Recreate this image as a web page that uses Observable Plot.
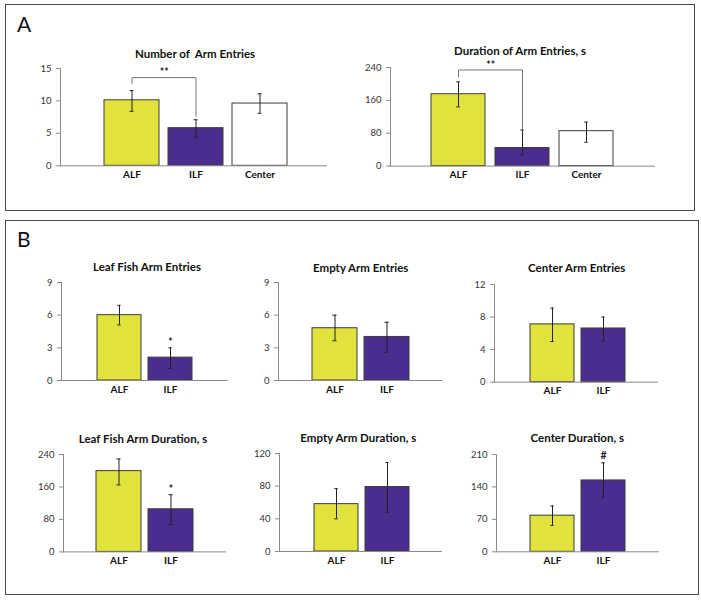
<!DOCTYPE html>
<html><head><meta charset="utf-8">
<script src="https://cdn.jsdelivr.net/npm/d3@7"></script>
<script src="https://cdn.jsdelivr.net/npm/@observablehq/plot@0.6"></script>
<style>
body{margin:0;background:#fff;}
#root{position:relative;width:701px;height:601px;font-family:Lato,"Open Sans",sans-serif;overflow:hidden;}
.panel{position:absolute;border:1.5px solid #4a4a4a;box-sizing:border-box;}
.letter{position:absolute;font-size:21px;line-height:21px;color:#111;}
.title{position:absolute;font-weight:bold;font-size:11.5px;line-height:11.5px;color:#111;transform:translateX(-50%);white-space:pre;}
.chart{position:absolute;}
</style></head><body><div id="root"></div>
<script>
// ---- data ----
const categoriesA = ["ALF", "ILF", "Center"];
const categoriesB = ["ALF", "ILF"];
const colorsA = ["#e1e33c", "#4a2d8e", "#ffffff"];
const colorsB = ["#e1e33c", "#4a2d8e"];

const armEntries = [10.1, 5.8, 9.6];
const armEntriesLo = [8.4, 4.4, 8.1];
const armEntriesHi = [11.6, 7.1, 11.1];

const armDuration = [175, 44, 85];
const armDurationLo = [144, 27, 58];
const armDurationHi = [205, 88, 107];

const leafEntries = [6.0, 2.1];
const leafEntriesLo = [5.1, 1.1];
const leafEntriesHi = [6.9, 3.0];

const emptyEntries = [4.8, 4.0];
const emptyEntriesLo = [3.65, 2.6];
const emptyEntriesHi = [6.0, 5.35];

const centerEntries = [7.1, 6.6];
const centerEntriesLo = [5.0, 5.05];
const centerEntriesHi = [9.1, 8.0];

const leafDuration = [199, 105];
const leafDurationLo = [165, 67];
const leafDurationHi = [229, 141];

const emptyDuration = [58, 79];
const emptyDurationLo = [40, 48];
const emptyDurationHi = [77, 109];

const centerDuration = [78, 154];
const centerDurationLo = [57, 118];
const centerDurationHi = [99, 192];

const ticksA1 = [0, 5, 10, 15];
const ticksA2 = [0, 80, 160, 240];
const ticksB1 = [0, 3, 6, 9];
const ticksB3 = [0, 4, 8, 12];
const ticksB4 = [0, 80, 160, 240];
const ticksB5 = [0, 40, 80, 120];
const ticksB6 = [0, 70, 140, 210];

// significance brackets: [ALF leg bottom, top, ILF leg bottom]
const bracketA1 = [12.7, 13.6, 7.6];
const bracketA2 = [217, 234, 88];
const starsA1 = 14.3, starsA2 = 244;
const starB1 = 3.5, starB4 = 154, hashB6 = 207;

const titles = ["Number of  Arm Entries", "Duration of Arm Entries, s", "Leaf Fish Arm Entries", "Empty Arm Entries",
  "Center Arm Entries", "Leaf Fish Arm Duration, s", "Empty Arm Duration, s", "Center Duration, s"];

// ---- layout ----
const root = document.getElementById("root");
function addDiv(cls, css, text) {
  const d = document.createElement("div");
  d.className = cls; Object.assign(d.style, css);
  if (text != null) d.textContent = text;
  root.appendChild(d); return d;
}
addDiv("panel", {left: "5px", top: "4px", width: "690px", height: "207px"});
addDiv("panel", {left: "5px", top: "220px", width: "694px", height: "375px"});
addDiv("letter", {left: "17px", top: "13px"}, "A");
addDiv("letter", {left: "17px", top: "228px"}, "B");

function chart(cfg) {
  const {cats, vals, lo, hi, colors, ticks, max, g, annots = [], bracket} = cfg;
  const padTop = 30, padBottom = 26, padLeft = 45, padRight = 6;
  const left = g.ax - padLeft, top = g.yt - padTop;
  const width = Math.round(g.end - left + padRight);
  const height = Math.round(g.y0 - top + padBottom);
  const mt = g.yt - top, mb = height - (g.y0 - top);
  const data = cats.map((c, i) => ({cat: c, v: vals[i], lo: lo[i], hi: hi[i]}));
  const n = cats.length, p = g.p;
  const step = (g.b1 - g.b0) / (n - p);
  const bw = step * (1 - p);
  const capW = 4, inset = (bw - capW) / 2;
  const marks = [
    Plot.barY(data, {x: "cat", y: "v", fill: "cat", stroke: "#3c3c3c", strokeWidth: 1}),
    Plot.frame({anchor: "left", stroke: "#8a8a8a"}),
    Plot.ruleY([0], {stroke: "#8a8a8a"}),
    Plot.ruleX(data, {x: "cat", y1: "lo", y2: "hi", stroke: "#222", strokeWidth: 1}),
    Plot.tickY(data, {x: "cat", y: "lo", insetLeft: inset, insetRight: inset, stroke: "#222"}),
    Plot.tickY(data, {x: "cat", y: "hi", insetLeft: inset, insetRight: inset, stroke: "#222"}),
    Plot.axisY({ticks, tickSize: 4, tickPadding: 5, stroke: "#8a8a8a", fill: "#333", label: null, fontSize: 9.5, tickFormat: d => String(d)}),
    Plot.axisX({tickSize: 0, tickPadding: 5, fill: "#111", label: null, fontSize: 10, fontWeight: "bold"})
  ];
  if (bracket) {
    const pts = [
      {cat: cats[0], v: bracket[0]}, {cat: cats[0], v: bracket[1]},
      {cat: cats[1], v: bracket[1]}, {cat: cats[1], v: bracket[2]}
    ];
    marks.push(Plot.line(pts, {x: "cat", y: "v", stroke: "#777", strokeWidth: 1}));
  }
  annots.forEach(a => {
    marks.push(Plot.text([a], {x: "cat", y: "v", text: "t", dx: a.mid ? step / 2 : 0, fontSize: 10.5, fontWeight: "bold", fill: "#222"}));
  });
  const svg = Plot.plot({
    width, height, marginTop: mt, marginBottom: mb, marginLeft: padLeft, marginRight: padRight,
    style: {fontFamily: "Lato, 'Open Sans', sans-serif", fontSize: "10px", overflow: "visible", background: "transparent"},
    x: {domain: cats, range: [g.b0 - left, g.b1 - left], paddingInner: p, paddingOuter: 0},
    y: {domain: [0, max]},
    color: {domain: cats, range: colors},
    marks
  });
  svg.classList.add("chart");
  svg.style.left = left + "px";
  svg.style.top = top + "px";
  root.appendChild(svg);
  addDiv("title", {left: g.tx + "px", top: (g.tb - 10.2) + "px"}, cfg.title);
}

chart({title: titles[0], cats: categoriesA, vals: armEntries, lo: armEntriesLo, hi: armEntriesHi, colors: colorsA, ticks: ticksA1, max: 15,
  g: {ax: 60, end: 327, yt: 68, y0: 165.3, b0: 103, b1: 287, p: 0.147, tx: 195, tb: 58},
  bracket: bracketA1, annots: [{cat: "ALF", v: starsA1, t: "**", mid: true}]});
chart({title: titles[1], cats: categoriesA, vals: armDuration, lo: armDurationLo, hi: armDurationHi, colors: colorsA, ticks: ticksA2, max: 240,
  g: {ax: 390, end: 655, yt: 66.7, y0: 165.3, b0: 430, b1: 613.3, p: 0.155, tx: 520, tb: 55.5},
  bracket: bracketA2, annots: [{cat: "ALF", v: starsA2, t: "**", mid: true}]});
chart({title: titles[2], cats: categoriesB, vals: leafEntries, lo: leafEntriesLo, hi: leafEntriesHi, colors: colorsB, ticks: ticksB1, max: 9,
  g: {ax: 61, end: 228, yt: 282.3, y0: 380.3, b0: 96, b1: 192.7, p: 0.14, tx: 147, tb: 270.7},
  annots: [{cat: "ILF", v: starB1, t: "*"}]});
chart({title: titles[3], cats: categoriesB, vals: emptyEntries, lo: emptyEntriesLo, hi: emptyEntriesHi, colors: colorsB, ticks: ticksB1, max: 9,
  g: {ax: 278.3, end: 442, yt: 282.3, y0: 380.3, b0: 312.3, b1: 409.3, p: 0.14, tx: 360.7, tb: 271.7}});
chart({title: titles[4], cats: categoriesB, vals: centerEntries, lo: centerEntriesLo, hi: centerEntriesHi, colors: colorsB, ticks: ticksB3, max: 12,
  g: {ax: 493.7, end: 658, yt: 284, y0: 381.7, b0: 528.3, b1: 625, p: 0.14, tx: 576.7, tb: 272.3}});
chart({title: titles[5], cats: categoriesB, vals: leafDuration, lo: leafDurationLo, hi: leafDurationHi, colors: colorsB, ticks: ticksB4, max: 240,
  g: {ax: 63.3, end: 226.7, yt: 454.3, y0: 551.7, b0: 96, b1: 193.3, p: 0.14, tx: 143, tb: 443.3},
  annots: [{cat: "ILF", v: starB4, t: "*"}]});
chart({title: titles[6], cats: categoriesB, vals: emptyDuration, lo: emptyDurationLo, hi: emptyDurationHi, colors: colorsB, ticks: ticksB5, max: 120,
  g: {ax: 279.3, end: 442.7, yt: 453.3, y0: 551.3, b0: 313.3, b1: 410, p: 0.14, tx: 358.3, tb: 441.7}});
chart({title: titles[7], cats: categoriesB, vals: centerDuration, lo: centerDurationLo, hi: centerDurationHi, colors: colorsB, ticks: ticksB6, max: 210,
  g: {ax: 496, end: 659.3, yt: 454, y0: 551.3, b0: 529.3, b1: 626, p: 0.14, tx: 577.3, tb: 442.3},
  annots: [{cat: "ILF", v: hashB6, t: "#"}]});
</script>
</body></html>
